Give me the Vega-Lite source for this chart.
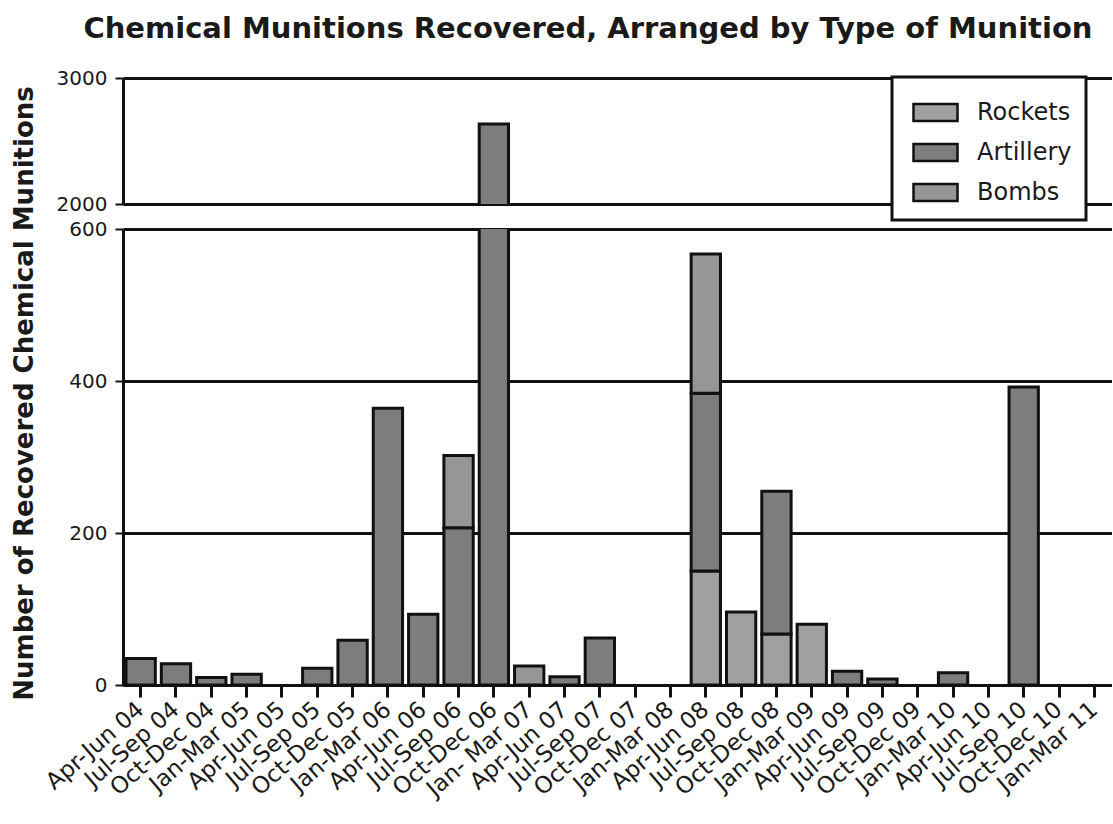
{
  "$schema": "https://vega.github.io/schema/vega-lite/v6.json",
  "background": "white",
  "padding": {"left": 11, "top": 15, "right": 0, "bottom": 0},
  "title": {"text": "Chemical Munitions Recovered, Arranged by Type of Munition", "fontSize": 29, "font": "DejaVu Sans", "fontWeight": "bold", "color": "#1a1a1a", "anchor": "middle", "offset": 24, "dx": 26},
  "config": {
    "view": {"stroke": null},
    "font": "DejaVu Sans",
    "axis": {"labelFont": "DejaVu Sans", "titleFont": "DejaVu Sans"},
    "legend": {"labelFont": "DejaVu Sans"}
  },
  "data": {"values": [
    {"period": "Apr-Jun 04", "type": "Artillery", "ord": 2, "count": 35},
    {"period": "Jul-Sep 04", "type": "Artillery", "ord": 2, "count": 28},
    {"period": "Oct-Dec 04", "type": "Artillery", "ord": 2, "count": 10},
    {"period": "Jan-Mar 05", "type": "Artillery", "ord": 2, "count": 14},
    {"period": "Jul-Sep 05", "type": "Artillery", "ord": 2, "count": 22},
    {"period": "Oct-Dec 05", "type": "Artillery", "ord": 2, "count": 59},
    {"period": "Jan-Mar 06", "type": "Artillery", "ord": 2, "count": 364},
    {"period": "Apr-Jun 06", "type": "Artillery", "ord": 2, "count": 93},
    {"period": "Jul-Sep 06", "type": "Artillery", "ord": 2, "count": 207},
    {"period": "Jul-Sep 06", "type": "Bombs", "ord": 3, "count": 95},
    {"period": "Oct-Dec 06", "type": "Artillery", "ord": 2, "count": 2635},
    {"period": "Jan- Mar 07", "type": "Bombs", "ord": 3, "count": 25},
    {"period": "Apr-Jun 07", "type": "Artillery", "ord": 2, "count": 11},
    {"period": "Jul-Sep 07", "type": "Artillery", "ord": 2, "count": 62},
    {"period": "Apr-Jun 08", "type": "Rockets", "ord": 1, "count": 150},
    {"period": "Apr-Jun 08", "type": "Artillery", "ord": 2, "count": 234},
    {"period": "Apr-Jun 08", "type": "Bombs", "ord": 3, "count": 183},
    {"period": "Jul-Sep 08", "type": "Rockets", "ord": 1, "count": 96},
    {"period": "Oct-Dec 08", "type": "Rockets", "ord": 1, "count": 67},
    {"period": "Oct-Dec 08", "type": "Artillery", "ord": 2, "count": 188},
    {"period": "Jan-Mar 09", "type": "Rockets", "ord": 1, "count": 80},
    {"period": "Apr-Jun 09", "type": "Artillery", "ord": 2, "count": 18},
    {"period": "Jul-Sep 09", "type": "Artillery", "ord": 2, "count": 8},
    {"period": "Jan-Mar 10", "type": "Artillery", "ord": 2, "count": 16},
    {"period": "Jul-Sep 10", "type": "Artillery", "ord": 2, "count": 392}
  ]},
  "bounds": "flush",
  "spacing": 25,
  "resolve": {"legend": {"color": "independent"}},
  "vconcat": [
    {
      "width": 989,
      "height": 126,
      "mark": {"type": "bar", "stroke": "#111", "strokeWidth": 3, "clip": true},
      "encoding": {
        "x": {"field": "period", "type": "nominal", "axis": null,
          "scale": {"domain": ["Apr-Jun 04","Jul-Sep 04","Oct-Dec 04","Jan-Mar 05","Apr-Jun 05","Jul-Sep 05","Oct-Dec 05","Jan-Mar 06","Apr-Jun 06","Jul-Sep 06","Oct-Dec 06","Jan- Mar 07","Apr-Jun 07","Jul-Sep 07","Oct-Dec 07","Jan-Mar 08","Apr-Jun 08","Jul-Sep 08","Oct-Dec 08","Jan-Mar 09","Apr-Jun 09","Jul-Sep 09","Oct-Dec 09","Jan-Mar 10","Apr-Jun 10","Jul-Sep 10","Oct-Dec 10","Jan-Mar 11"], "paddingInner": 0.17, "paddingOuter": 0.085}},
        "y": {"field": "count", "type": "quantitative", "stack": "zero",
          "scale": {"domain": [2000, 3000], "nice": false, "zero": false},
          "axis": {"values": [2000, 3000], "format": "d", "title": null, "grid": true, "gridColor": "#111", "gridWidth": 3, "gridOpacity": 1,
            "domainColor": "#111", "domainWidth": 3, "tickColor": "#111", "tickWidth": 2, "tickSize": 8,
            "labelFontSize": 20, "labelColor": "#1a1a1a", "labelPadding": 8}},
        "color": {"field": "type", "type": "nominal",
          "scale": {"domain": ["Rockets", "Artillery", "Bombs"], "range": ["#a0a0a0", "#7d7d7d", "#969696"]},
          "legend": {"orient": "none", "legendX": 769, "legendY": -1, "title": null, "direction": "vertical",
            "symbolType": "M-1.1,-0.42H1.1V0.42H-1.1Z", "symbolSize": 1600, "symbolStrokeColor": "#111", "symbolStrokeWidth": 2.5, "symbolOpacity": 1,
            "symbolOffset": 8,
            "labelFontSize": 24, "labelColor": "#1a1a1a", "labelOffset": 20, "padding": 14,
            "labelExpr": "datum.label + '\u00a0\u00a0\u00a0\u00a0'",
            "strokeColor": "#111", "fillColor": "white", "rowPadding": 5, "cornerRadius": 0,
            "encode": {"legend": {"update": {"strokeWidth": {"value": 3}}}}}},
        "order": {"field": "ord", "type": "quantitative"}
      }
    },
    {
      "width": 989,
      "height": 456,
      "mark": {"type": "bar", "stroke": "#111", "strokeWidth": 3, "clip": true},
      "encoding": {
        "x": {"field": "period", "type": "nominal",
          "scale": {"domain": ["Apr-Jun 04","Jul-Sep 04","Oct-Dec 04","Jan-Mar 05","Apr-Jun 05","Jul-Sep 05","Oct-Dec 05","Jan-Mar 06","Apr-Jun 06","Jul-Sep 06","Oct-Dec 06","Jan- Mar 07","Apr-Jun 07","Jul-Sep 07","Oct-Dec 07","Jan-Mar 08","Apr-Jun 08","Jul-Sep 08","Oct-Dec 08","Jan-Mar 09","Apr-Jun 09","Jul-Sep 09","Oct-Dec 09","Jan-Mar 10","Apr-Jun 10","Jul-Sep 10","Oct-Dec 10","Jan-Mar 11"], "paddingInner": 0.17, "paddingOuter": 0.085},
          "axis": {"title": null, "labelAngle": -41, "labelAlign": "right", "labelBaseline": "middle", "labelFontSize": 23, "labelColor": "#1a1a1a", "labelPadding": 9,
            "domainColor": "#111", "domainWidth": 3, "tickColor": "#111", "tickWidth": 3, "tickSize": 12, "labelOverlap": false}},
        "y": {"field": "count", "type": "quantitative", "stack": "zero",
          "scale": {"domain": [0, 600], "nice": false},
          "axis": {"values": [0, 200, 400, 600], "format": "d", "grid": true, "gridColor": "#111", "gridWidth": 3, "gridOpacity": 1,
            "domainColor": "#111", "domainWidth": 3, "tickColor": "#111", "tickWidth": 2, "tickSize": 8,
            "labelFontSize": 20, "labelColor": "#1a1a1a", "labelPadding": 8,
            "title": "Number of Recovered Chemical Munitions", "titleFontSize": 26, "titleFontWeight": "bold", "titleColor": "#1a1a1a", "titleY": 164, "titlePadding": 31}},
        "color": {"field": "type", "type": "nominal",
          "scale": {"domain": ["Rockets", "Artillery", "Bombs"], "range": ["#a0a0a0", "#7d7d7d", "#969696"]},
          "legend": null},
        "order": {"field": "ord", "type": "quantitative"}
      }
    }
  ]
}
